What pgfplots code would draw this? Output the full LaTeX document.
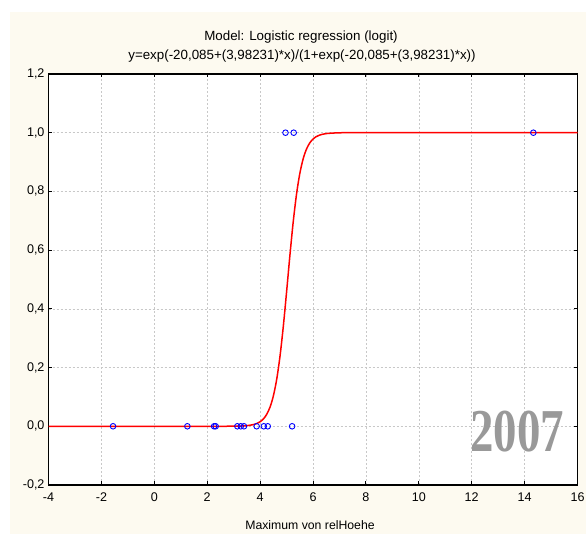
\documentclass[border=0pt]{standalone}
\usepackage{graphicx}
\usepackage{pgfplots}
\pgfplotsset{compat=1.18}
\usepackage{fontspec}
\setmainfont{Liberation Sans}
\newfontfamily\timesfont{Liberation Serif}
\definecolor{cream}{RGB}{253,250,240}
\definecolor{gridgray}{RGB}{200,200,200}
\definecolor{yeargray}{RGB}{153,153,153}
\definecolor{curvered}{RGB}{255,0,0}
\definecolor{ptblue}{RGB}{0,0,255}
\begin{document}
\begin{tikzpicture}[x=1bp,y=1bp]
\useasboundingbox (0,0) rectangle (586,534);
\fill[cream] (10,0) rectangle (586,522);
\begin{axis}[
  at={(48.5bp,49bp)}, anchor=south west,
  scale only axis, width=529bp, height=411bp,
  xmin=-4, xmax=16, ymin=-0.2, ymax=1.2,
  xtick={-4,-2,0,2,4,6,8,10,12,14,16},
  ytick={-0.2,0,0.2,0.4,0.6,0.8,1.0,1.2},
  axis background/.style={fill=white},
  grid=major,
  major grid style={gridgray, dash pattern=on 2bp off 2bp, line width=0.6bp},
  axis line style={black, line width=1.3bp},
  tick align=inside,
  major tick length=3.5bp,
  tick style={black, line width=0.9bp},
  ticklabel style={font=\fontsize{12.6}{14}\selectfont},
  /pgf/number format/assume math mode=true,
  yticklabel style={xshift=-0.5bp, /pgf/number format/use comma, /pgf/number format/fixed, /pgf/number format/fixed zerofill, /pgf/number format/precision=1},
  xticklabel style={yshift=-4bp},
]
\addplot[curvered, line width=1.5bp, smooth] coordinates {
(-4,0) (2,0.00001) (3,0.0003) (3.25,0.0008) (3.5,0.0021) (3.75,0.0058) (3.875,0.0094)
(4,0.0154) (4.125,0.0251) (4.25,0.0407) (4.375,0.0652) (4.5,0.1029) (4.625,0.1588)
(4.75,0.2370) (4.875,0.3383) (5,0.4567) (5.125,0.5804) (5.25,0.6947) (5.375,0.7892)
(5.5,0.8603) (5.625,0.9101) (5.75,0.9434) (5.875,0.9648) (6,0.9783) (6.125,0.9867)
(6.25,0.9919) (6.5,0.9970) (7,0.9996) (8,1) (16,1)
};
\addplot[only marks, mark=o, ptblue, mark size=2.8bp, line width=0.9bp] coordinates {
(-1.56,0) (1.25,0) (2.26,0) (2.32,0) (3.14,0) (3.27,0) (3.39,0) (3.87,0)
(4.14,0) (4.29,0) (5.21,0) (4.96,1) (5.27,1) (14.33,1)
};
\end{axis}
\node[font=\fontsize{13.4}{15}\selectfont] at (301,497) {Model: Logistic regression (logit)};
\node[font=\fontsize{13.4}{15}\selectfont] at (302,478) {y=exp(-20,085+(3,98231)*x)/(1+exp(-20,085+(3,98231)*x))};
\node[font=\fontsize{12.3}{14}\selectfont] at (310,9) {Maximum von relHoehe};
\node[yeargray, inner sep=0pt] at (517,102) {\scalebox{1}[1.3]{\fontsize{47}{47}\selectfont\timesfont\bfseries 2007}};
\end{tikzpicture}
\end{document}
